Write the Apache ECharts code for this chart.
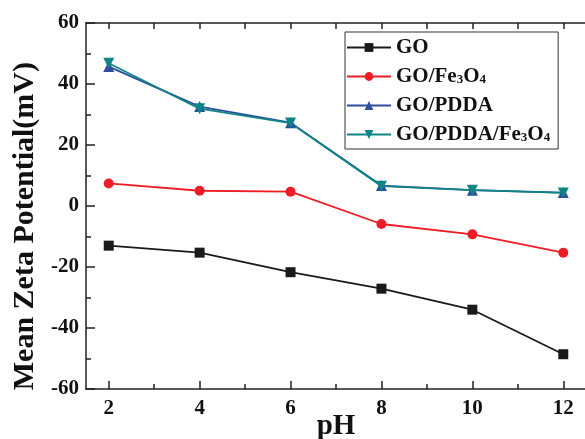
<!DOCTYPE html>
<html><head><meta charset="utf-8">
<script src="https://cdn.jsdelivr.net/npm/echarts@6/dist/echarts.min.js"></script>
<style>html,body{margin:0;padding:0;background:#fff}#c{width:585px;height:439px}</style>
</head><body><div id="c"></div>
<script>
var pH = [2, 4, 6, 8, 10, 12];
var GO = [-13.0, -15.3, -21.7, -27.1, -34.0, -48.6];
var GO_Fe3O4 = [7.4, 5.0, 4.7, -5.9, -9.3, -15.3];
var GO_PDDA = [45.7, 32.6, 27.3, 6.7, 5.2, 4.4];
var GO_PDDA_Fe3O4 = [46.8, 31.9, 27.2, 6.5, 5.2, 4.3];
var seriesNames = ['GO', 'GO/Fe3O4', 'GO/PDDA', 'GO/PDDA/Fe3O4'];
var xTicks = [2, 4, 6, 8, 10, 12];
var xMinorTicks = [3, 5, 7, 9, 11];

function pts(ys){ return pH.map(function(x,i){ return [x, ys[i]]; }); }
var FONT = '"Liberation Serif","Times New Roman",serif';
var AX = '#222';

var chart = echarts.init(document.getElementById('c'), null, {renderer:'canvas'});
function mk(name, ys, color, symbol, size){
  return {name:name, type:'line', data:pts(ys), symbol:symbol, symbolSize:size,
    lineStyle:{color:color,width:1.8}, itemStyle:{color:color}, z: 3};
}
chart.setOption({
  animation:false,
  grid:{left:86, right:-1, top:23, bottom:50, containLabel:false, outerBoundsMode:'none'},
  legend:{
    orient:'vertical', left:345, top:32, width:215,
    data:seriesNames,
    itemWidth:44, itemHeight:11, itemGap:8,
    borderColor:'#333', borderWidth:1, padding:[5,8,4,1],
    backgroundColor:'#fff',
    textStyle:{fontFamily:FONT, fontWeight:'bold', fontSize:21, color:'#111',
      rich:{s:{fontFamily:FONT, fontWeight:'bold', fontSize:13, color:'#111', padding:[6,0,0,0]}}},
    formatter:function(n){
      return n.replace(/(\d)/g, '{s|$1}');
    }
  },
  xAxis:[{
    type:'value', min:1.5, max:12.5, interval:2,
    axisLine:{show:true, onZero:false, lineStyle:{color:AX,width:1.5}},
    axisTick:{show:true, inside:true, length:8, lineStyle:{color:AX,width:1.5},
      customValues:xTicks},
    axisLabel:{fontFamily:FONT, fontWeight:'bold', fontSize:21, color:'#111', margin:9,
      customValues:xTicks},
    splitLine:{show:false},
    name:'pH', nameLocation:'middle', nameGap:23, nameMoveOverlap:false,
    nameTextStyle:{fontFamily:FONT, fontWeight:'bold', fontSize:29, color:'#111'}
  },{
    type:'value', min:1.5, max:12.5, position:'top',
    axisLine:{show:true, onZero:false, lineStyle:{color:AX,width:1.5}},
    axisTick:{show:true, inside:true, length:6, lineStyle:{color:AX,width:1.5},
      customValues:xTicks.concat(xMinorTicks)},
    axisLabel:{show:false}, splitLine:{show:false}
  },{
    type:'value', min:1.5, max:12.5, position:'bottom',
    axisLine:{show:false, onZero:false},
    axisTick:{show:true, inside:true, length:5, lineStyle:{color:AX,width:1.5},
      customValues:xMinorTicks},
    axisLabel:{show:false}, splitLine:{show:false}
  }],
  yAxis:[{
    type:'value', min:-60, max:60, interval:20,
    axisLine:{show:true, onZero:false, lineStyle:{color:AX,width:1.5}},
    axisTick:{show:true, inside:true, length:9, lineStyle:{color:AX,width:1.5}},
    minorTick:{show:true, splitNumber:2, length:5, lineStyle:{color:AX,width:1.5}},
    axisLabel:{fontFamily:FONT, fontWeight:'bold', fontSize:21, color:'#111', margin:7},
    splitLine:{show:false}
  }],
  graphic:[{
    type:'text', left:10, top:62,
    style:{text:'Mean Zeta Potential(mV)', fontFamily:FONT, fontWeight:'bold', fontSize:30, fill:'#111'},
    rotation:Math.PI/2, originX:0, originY:0
  }],
  series:[
    mk('GO', GO, '#1a1a1a', 'rect', 10),
    mk('GO/Fe3O4', GO_Fe3O4, '#ee1c24', 'circle', 10),
    mk('GO/PDDA', GO_PDDA, '#2e4d9f', 'triangle', 11),
    Object.assign(mk('GO/PDDA/Fe3O4', GO_PDDA_Fe3O4, '#0e8585', 'triangle', 11), {symbolRotate:180})
  ]
});
</script></body></html>
